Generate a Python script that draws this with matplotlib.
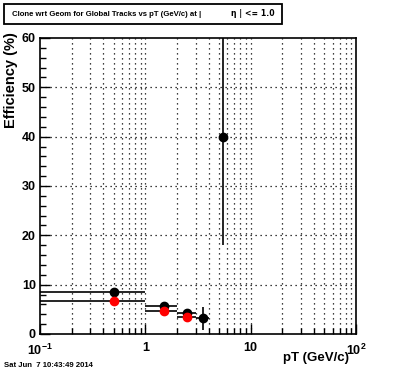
import matplotlib
matplotlib.use("Agg")
import matplotlib.pyplot as plt
from matplotlib.ticker import FixedLocator, NullFormatter, FixedFormatter
from matplotlib.patches import Rectangle

plt.rcParams['font.family'] = ['Liberation Sans', 'DejaVu Sans']
plt.rcParams['mathtext.fontset'] = 'custom'
plt.rcParams['mathtext.rm'] = 'Liberation Sans:bold'
plt.rcParams['mathtext.it'] = 'Liberation Sans:bold'
plt.rcParams['mathtext.bf'] = 'Liberation Sans:bold'

# Data
pt_black = [0.5, 1.5, 2.5, 3.5, 5.5]
pt_black_lo = [0.4, 0.5, 0.5, 0.5, 0.5]
pt_black_hi = [0.5, 0.5, 0.5, 0.5, 0.5]
eff_black = [8.45, 5.7, 4.2, 3.2, 40.0]
eff_black_err = [0.2, 0.3, 0.4, 2.3, 22.0]

pt_red = [0.5, 1.5, 2.5]
pt_red_lo = [0.4, 0.5, 0.5]
pt_red_hi = [0.5, 0.5, 0.5]
eff_red = [6.6, 4.6, 3.4]
eff_red_err = [0.2, 0.3, 0.3]

xmajor = [0.1, 1, 10, 100]
xmajor_labels = [r'$10^{-1}$', '1', '10', r'$10^{2}$']
ymajor = [0, 10, 20, 30, 40, 50, 60]

fig = plt.figure(figsize=(3.96, 3.72), dpi=100)
ax = fig.add_axes([40/396, 1-334/372, 316/396, 296/372])
ax.set_xscale('log')
ax.set_xlim(0.1, 100)
ax.set_ylim(0, 60)

# grid
xminor = [m*10**e for e in (-1, 0, 1) for m in range(2, 10)]
for x in xminor + xmajor[1:-1]:
    ax.axvline(x, color='black', linestyle=(0, (1, 3)), linewidth=0.9, zorder=0)
for y in ymajor[1:-1]:
    ax.axhline(y, color='black', linestyle=(0, (1, 3)), linewidth=0.9, zorder=0)

ax.errorbar(pt_black, eff_black, xerr=[pt_black_lo, pt_black_hi], yerr=eff_black_err,
            fmt='o', color='black', ecolor='black', markersize=6, elinewidth=1.2,
            capsize=0, zorder=3)
ax.errorbar(pt_red, eff_red, xerr=[pt_red_lo, pt_red_hi], yerr=eff_red_err,
            fmt='o', color='red', ecolor='black', markersize=6, elinewidth=1.2,
            capsize=0, zorder=4)

ax.xaxis.set_major_locator(FixedLocator(xmajor))
ax.xaxis.set_major_formatter(FixedFormatter(xmajor_labels))
ax.xaxis.set_minor_locator(FixedLocator(xminor))
ax.xaxis.set_minor_formatter(NullFormatter())
ax.yaxis.set_major_locator(FixedLocator(ymajor))
ax.yaxis.set_minor_locator(FixedLocator([v for v in range(0, 61, 2) if v % 10]))

ax.tick_params(which='both', direction='in', top=False, right=False)
ax.tick_params(which='major', length=7, width=1, labelsize=9)
ax.tick_params(which='minor', length=4.5, width=1)
ax.tick_params(axis='x', which='major', pad=6)
ax.tick_params(axis='y', which='major', pad=3)
for lab in ax.get_xticklabels() + ax.get_yticklabels():
    lab.set_fontweight('bold')
for s in ax.spines.values():
    s.set_linewidth(1.2)

fig.text(11/396, 1-32/372, 'Efficiency (%)', rotation=90, ha='center', va='top',
         fontsize=10.5, fontweight='bold')
fig.text(349/396, 1-361/372, 'pT (GeV/c)', ha='right', va='baseline',
         fontsize=9.5, fontweight='bold')

# title box
fig.patches.append(Rectangle((4/396, 1-24/372), 278/396, 20/372, transform=fig.transFigure,
                             fill=False, edgecolor='black', linewidth=1.3))
fig.text(12/396, 1-14/372, 'Clone wrt Geom for Global Tracks vs pT (GeV/c) at |',
         ha='left', va='center', fontsize=5.6, fontweight='bold')
fig.text(231/396, 1-14/372, 'η | <= 1.0', ha='left', va='center',
         fontsize=5.6, fontweight='bold', family=['DejaVu Sans'])

fig.text(4/396, 1-367/372, 'Sat Jun  7 10:43:49 2014', ha='left', va='baseline',
         fontsize=5.6, fontweight='bold')

fig.savefig('out.png', dpi=100)
